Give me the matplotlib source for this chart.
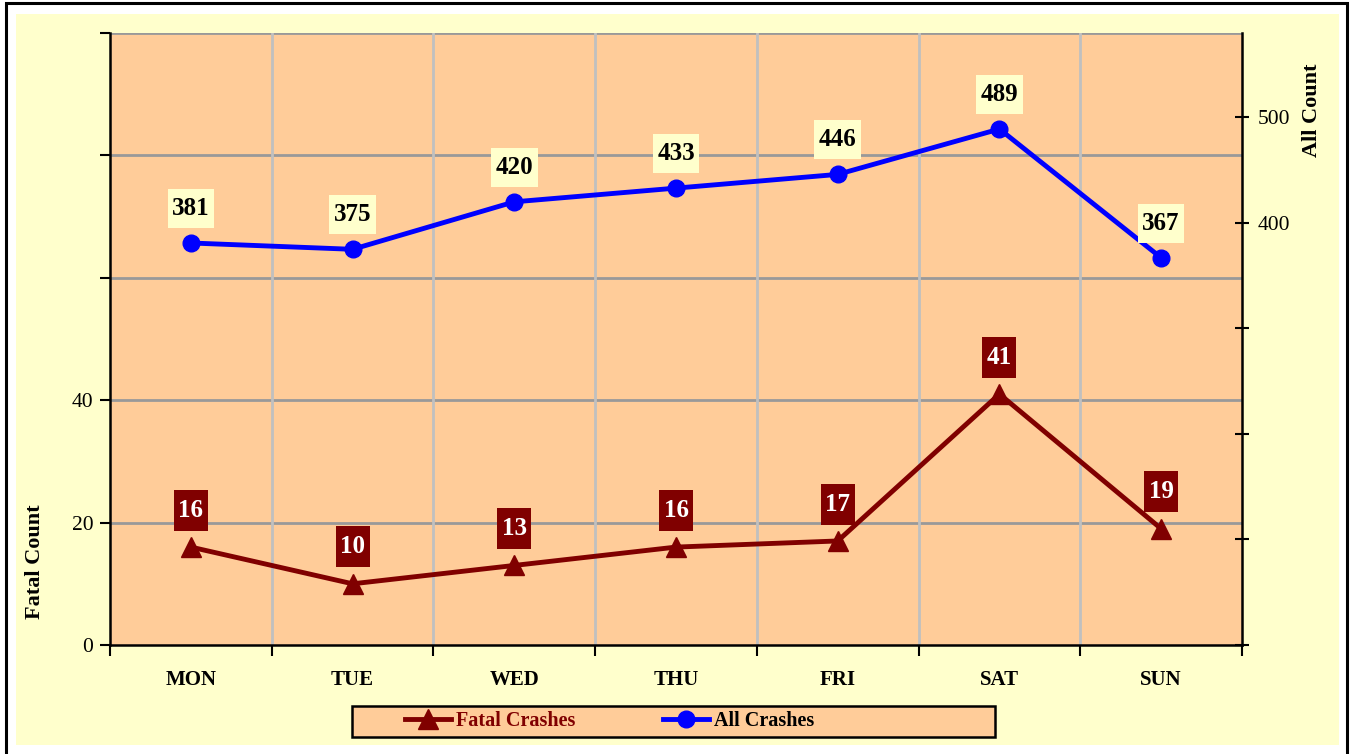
import matplotlib
matplotlib.use("Agg")
import matplotlib.pyplot as plt
import matplotlib.ticker as ticker
from matplotlib.patches import Rectangle
from matplotlib.path import Path
import numpy as np

plt.rcParams["font.family"] = ["Liberation Serif", "DejaVu Serif"]

days = ["MON", "TUE", "WED", "THU", "FRI", "SAT", "SUN"]
fatal_crashes = [16, 10, 13, 16, 17, 41, 19]
all_crashes = [381, 375, 420, 433, 446, 489, 367]

YELLOW = "#FFFFCC"
PEACH = "#FFCC99"
DARKRED = "#800000"
BLUE = "#0000FF"


def padded_box(padx, pady):
    # label box with different horizontal / vertical padding
    def box(x0, y0, width, height, mutation_size):
        px, py = padx * mutation_size, pady * mutation_size
        x0, y0 = x0 - px, y0 - py
        x1, y1 = x0 + width + 2 * px, y0 + height + 2 * py
        return Path([(x0, y0), (x1, y0), (x1, y1), (x0, y1), (x0, y0)], closed=True)
    return box


W, H = 1351, 754
fig = plt.figure(figsize=(W / 100, H / 100), dpi=100, facecolor="white")

# yellow chart area and outer black frame
fig.patches.append(Rectangle((16 / W, 1 - 745 / H), (1339 - 16) / W, (745 - 14) / H,
                             transform=fig.transFigure, facecolor=YELLOW, edgecolor="none", zorder=-2))
fig.patches.append(Rectangle((6 / W, 1 - 770 / H), (1347 - 6) / W, (770 - 3) / H,
                             transform=fig.transFigure, facecolor="none", edgecolor="black",
                             linewidth=2.2, zorder=-1))

ax = fig.add_axes([110 / W, 1 - 645 / H, (1242 - 110) / W, (645 - 33) / H])
ax.set_facecolor(PEACH)
ax2 = ax.twinx()
ax2.patch.set_visible(False)

x = np.arange(len(days))

# fatal crashes on left axis
ax.plot(x, fatal_crashes, color=DARKRED, linewidth=3.5, marker="^", markersize=14,
        label="Fatal Crashes", zorder=3)
for xi, v in zip(x, fatal_crashes):
    ax.annotate(str(v), (xi, v), xytext=(0, 26.5), textcoords="offset points",
                ha="center", va="center", fontsize=18, fontweight="bold", color="white",
                bbox=dict(boxstyle=padded_box(0.18, 0.36), facecolor=DARKRED, edgecolor="none"),
                zorder=4)

# all crashes on right axis
ax2.plot(x, all_crashes, color=BLUE, linewidth=3.5, marker="o", markersize=12,
         label="All Crashes", zorder=3)
for xi, v in zip(x, all_crashes):
    ax2.annotate(str(v), (xi, v), xytext=(0, 25), textcoords="offset points",
                 ha="center", va="center", fontsize=18, fontweight="bold", color="black",
                 bbox=dict(boxstyle=padded_box(0.18, 0.32), facecolor=YELLOW, edgecolor="none"),
                 zorder=4)

ax.set_xlim(-0.5, len(days) - 0.5)
ax.set_ylim(0, 100)
ax2.set_ylim(0, 580)

# x axis: labels at categories, ticks at boundaries
ax.set_xticks(x)
ax.set_xticklabels(days, fontsize=15, fontweight="bold")
ax.tick_params(axis="x", which="major", length=0, pad=18)
ax.xaxis.set_minor_locator(ticker.FixedLocator(np.arange(-0.5, len(days), 1)))
ax.tick_params(axis="x", which="minor", length=8, width=1.5, direction="out")

# left axis
ax.set_yticks([0, 20, 40, 60, 80, 100])
ax.set_yticklabels(["0", "20", "40", "", "", ""], fontsize=15.5)
ax.tick_params(axis="y", length=7, width=1.5, direction="out", pad=5)

# right axis
ax2.set_yticks([0, 100, 200, 300, 400, 500])
ax2.set_yticklabels(["", "", "", "", "400", "500"], fontsize=15.5)
ax2.tick_params(axis="y", length=10, width=1.5, direction="inout", pad=6)

# grid
for yv in [20, 40, 60, 80, 100]:
    ax.axhline(yv, color="#999999", linewidth=2, zorder=1)
for xv in np.arange(0.5, len(days) - 1, 1):
    ax.axvline(xv, color="#C0C0C0", linewidth=2, zorder=1)

for a in (ax, ax2):
    for s in a.spines.values():
        s.set_visible(False)
ax.spines["left"].set_visible(True)
ax.spines["bottom"].set_visible(True)
ax2.spines["right"].set_visible(True)
for s in (ax.spines["left"], ax.spines["bottom"], ax2.spines["right"]):
    s.set_linewidth(1.8)
    s.set_color("black")

ax.set_ylabel("Fatal Count", fontsize=16, fontweight="bold")
ax.yaxis.set_label_coords(-0.057, 0.136)
ax2.set_ylabel("All Count", fontsize=16, fontweight="bold")
ax2.yaxis.set_label_coords(1.053, 0.874)

# legend box with two entries
fig.patches.append(Rectangle((352 / W, 1 - 737 / H), (995 - 352) / W, 31 / H,
                             transform=fig.transFigure, facecolor=PEACH, edgecolor="black",
                             linewidth=1.8, zorder=5))
h1, l1 = ax.get_legend_handles_labels()
h2, l2 = ax2.get_legend_handles_labels()
for h, l, xpos, col in [(h1, l1, 405, DARKRED), (h2, l2, 663, "black")]:
    leg = fig.legend(h, l, loc="center left", bbox_to_anchor=(xpos / W, 1 - 721.5 / H),
                     frameon=False, borderpad=0, borderaxespad=0, handlelength=2.3,
                     handletextpad=0.25, prop={"size": 14.5, "weight": "bold"})
    leg.set_zorder(6)
    leg.get_texts()[0].set_color(col)

fig.savefig("out.png", dpi=100, facecolor="white")
